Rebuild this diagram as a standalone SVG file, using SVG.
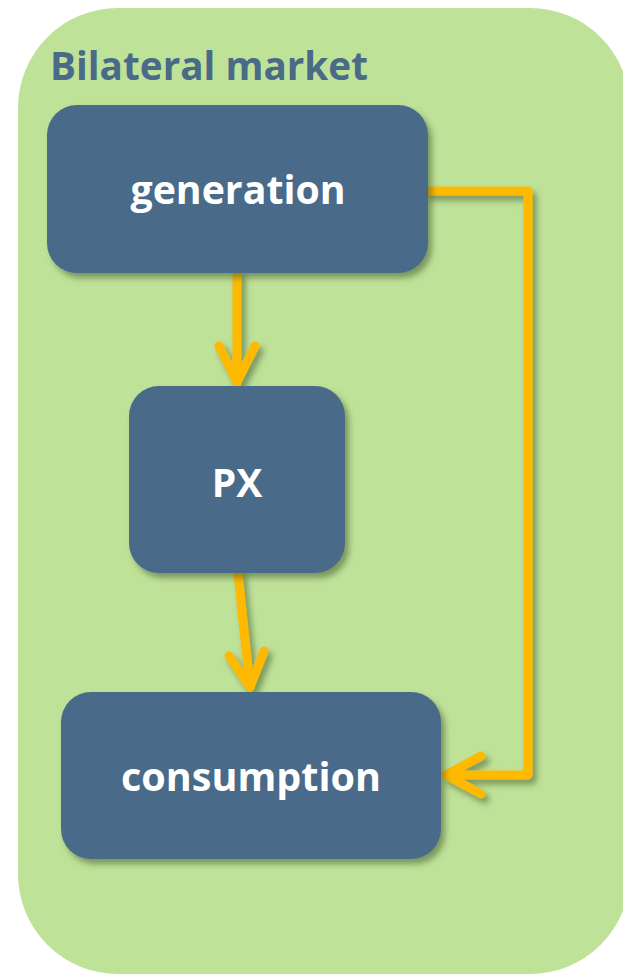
<svg xmlns="http://www.w3.org/2000/svg" width="623" height="974" viewBox="0 0 623 974">
  <defs>
    <filter id="shadow" x="-20%" y="-20%" width="140%" height="140%">
      <feDropShadow dx="4" dy="5" stdDeviation="3" flood-color="#3d5a2a" flood-opacity="0.55"/>
    </filter>
    <style>
      .panel { fill: #bfe299; }
      .box { fill: #4a6b88; filter: url(#shadow); }
      .title { font-family: "Open Sans", "Liberation Sans", sans-serif; font-weight: bold; font-size: 40px; fill: #4a6b88; }
      .label { font-family: "Open Sans", "Liberation Sans", sans-serif; font-weight: bold; font-size: 39px; fill: #ffffff; text-anchor: middle; }
      .wire { fill: none; stroke: #ffb900; stroke-width: 9; stroke-linecap: round; stroke-linejoin: round; }
    </style>
  </defs>

  <!-- market panel -->
  <rect class="panel" x="18" y="8" width="612" height="966" rx="100" ry="100"/>
  <text class="title" x="50" y="80" textLength="318" lengthAdjust="spacingAndGlyphs">Bilateral market</text>

  <!-- connectors -->
  <g id="connectors" filter="url(#shadow)">
    <path class="wire" d="M237 273 V383"/>
    <path class="wire" d="M219 346 L237 382 L255 346"/>
    <path class="wire" d="M238 573 L250 687"/>
    <path class="wire" d="M229 656 L250 687 L264 651"/>
    <path class="wire" d="M428 191 H528 V775 H446"/>
    <path class="wire" d="M481 756 L446 775 L481 794"/>
  </g>

  <g id="generation">
    <rect class="box" x="47" y="105" width="381" height="168" rx="30"/>
    <text class="label" x="238" y="204" textLength="215" lengthAdjust="spacingAndGlyphs">generation</text>
  </g>

  <g id="px">
    <rect class="box" x="129" y="386" width="216" height="187" rx="30"/>
    <text class="label" x="237" y="497">PX</text>
  </g>

  <g id="consumption">
    <rect class="box" x="61" y="692" width="380" height="167" rx="30"/>
    <text class="label" x="251" y="791" textLength="260" lengthAdjust="spacingAndGlyphs">consumption</text>
  </g>
</svg>
